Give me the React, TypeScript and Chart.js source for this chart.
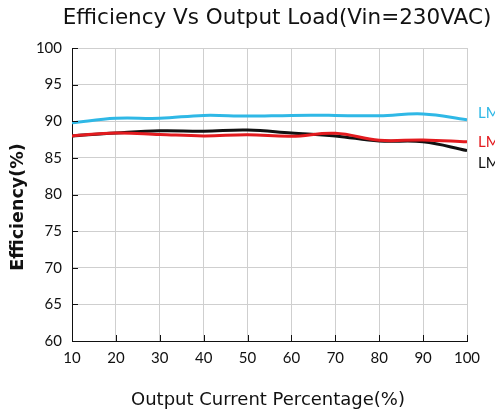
import React, { useEffect, useRef } from "react";
import { Chart, registerables } from "chart.js";

Chart.register(...registerables);

const loadPercent = [10, 20, 30, 40, 50, 60, 70, 80, 90, 100];
const cyanSeries = [89.8, 90.4, 90.4, 90.8, 90.7, 90.8, 90.8, 90.75, 91.0, 90.2];
const redSeries = [88.0, 88.4, 88.2, 88.0, 88.15, 87.95, 88.35, 87.4, 87.45, 87.2];
const blackSeries = [88.0, 88.4, 88.7, 88.65, 88.8, 88.4, 88.0, 87.3, 87.2, 86.0];
const seriesNames = ["LM-1", "LM-2", "LM-3"];
const seriesColors = ["#2fb8e6", "#e31b1f", "#111111"];
const yTickValues = [60, 65, 70, 75, 80, 85, 90, 95, 100];
const titleText = "Efficiency Vs Output Load(Vin=230VAC)";
const xTitle = "Output Current Percentage(%)";
const yTitle = "Efficiency(%)";

const FONT = "Lato, 'Noto Sans', sans-serif";
const WIDE = "'DejaVu Sans', sans-serif";

const textPlugin = {
  id: "customText",
  afterDraw(chart: any) {
    const ctx = chart.ctx;
    const area = chart.chartArea;
    const xs = chart.scales.x;
    const ys = chart.scales.y;
    ctx.save();
    // inside tick marks
    ctx.strokeStyle = "#111";
    ctx.lineWidth = 1;
    ctx.beginPath();
    yTickValues.forEach((v) => {
      const p = Math.round(ys.getPixelForValue(v)) + 0.5;
      ctx.moveTo(area.left, p);
      ctx.lineTo(area.left + 6, p);
    });
    loadPercent.forEach((v) => {
      const p = Math.round(xs.getPixelForValue(v)) + 0.5;
      ctx.moveTo(p, area.bottom);
      ctx.lineTo(p, area.bottom - 6);
    });
    ctx.stroke();

    // title
    ctx.fillStyle = "#111";
    ctx.textAlign = "center";
    ctx.textBaseline = "middle";
    ctx.font = `21.5px ${WIDE}`;
    ctx.fillText(titleText, 277, 18);
    // x title
    ctx.font = `18px ${WIDE}`;
    ctx.fillText(xTitle, 268, 400);
    // y title
    ctx.save();
    ctx.translate(18, 207);
    ctx.rotate(-Math.PI / 2);
    ctx.font = `bold 17.5px ${WIDE}`;
    ctx.fillText(yTitle, 0, 0);
    ctx.restore();

    // right labels
    ctx.textAlign = "left";
    ctx.font = `15px ${FONT}`;
    const labelY = [113, 142, 163];
    seriesNames.forEach((n, i) => {
      ctx.fillStyle = seriesColors[i];
      ctx.fillText(n, 478, labelY[i]);
    });
    ctx.restore();
  },
};

export default function App() {
  const ref = useRef<HTMLCanvasElement>(null);
  useEffect(() => {
    document.body.style.margin = "0";
    const canvas = ref.current!;
    const data = [cyanSeries, redSeries, blackSeries];
    const chart = new Chart(canvas, {
      type: "line",
      data: {
        datasets: data.map((d, i) => ({
          label: seriesNames[i],
          data: d.map((v, j) => ({ x: loadPercent[j], y: v })),
          borderColor: seriesColors[i],
          borderWidth: 3,
          pointRadius: 0,
          tension: 0.4,
          fill: false,
        })),
      },
      options: {
        animation: false,
        responsive: false,
        maintainAspectRatio: false,
        layout: { padding: { top: 48, right: 28, left: 0, bottom: 0 } },
        plugins: { legend: { display: false }, title: { display: false }, tooltip: { enabled: false } },
        scales: {
          x: {
            type: "linear",
            min: 10,
            max: 100,
            afterBuildTicks: (axis: any) => {
              axis.ticks = loadPercent.map((v) => ({ value: v }));
            },
            afterFit: (axis: any) => {
              axis.height = 75;
            },
            grid: { color: "#cfcfcf", drawTicks: false, lineWidth: 1 },
            border: { color: "#111", width: 1 },
            ticks: { color: "#111", font: { family: FONT, size: 15 }, padding: 8, maxRotation: 0 },
          },
          y: {
            min: 60,
            max: 100,
            afterBuildTicks: (axis: any) => {
              axis.ticks = yTickValues.map((v) => ({ value: v }));
            },
            afterFit: (axis: any) => {
              axis.width = 72;
            },
            grid: { color: "#cfcfcf", drawTicks: false, lineWidth: 1 },
            border: { color: "#111", width: 1 },
            ticks: { color: "#111", font: { family: FONT, size: 15 }, padding: 10 },
          },
        },
      },
      plugins: [textPlugin],
    } as any);
    return () => chart.destroy();
  }, []);
  return (
    <div style={{ width: 495, height: 416, background: "#fff" }}>
      <canvas ref={ref} width={495} height={416} style={{ display: "block" }} />
    </div>
  );
}
